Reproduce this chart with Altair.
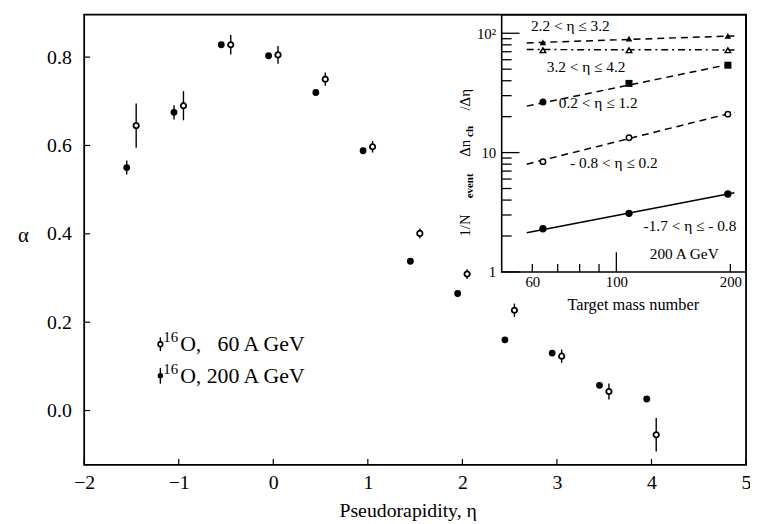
import altair as alt
import pandas as pd

FONT = "Liberation Serif"

# ---------------- main panel data ----------------
eta_200 = [-1.55, -1.05, -0.55, -0.05, 0.45, 0.95, 1.45, 1.95, 2.45, 2.95, 3.45, 3.95]
alpha_200 = [0.55, 0.675, 0.828, 0.803, 0.72, 0.588, 0.338, 0.265, 0.16, 0.13, 0.057, 0.026]
err_200 = [0.016, 0.016, 0.006, 0.005, 0.005, 0.005, 0.005, 0.005, 0.005, 0.005, 0.005, 0.005]

eta_60 = [-1.45, -0.95, -0.45, 0.05, 0.55, 1.05, 1.55, 2.05, 2.55, 3.05, 3.55, 4.05]
alpha_60 = [0.645, 0.69, 0.828, 0.805, 0.75, 0.597, 0.401, 0.309, 0.227, 0.123, 0.043, -0.055]
err_60 = [0.05, 0.033, 0.022, 0.02, 0.015, 0.013, 0.011, 0.011, 0.015, 0.015, 0.018, 0.038]

x_ticks = [-2, -1, 0, 1, 2, 3, 4, 5]
y_ticks = [0.0, 0.2, 0.4, 0.6, 0.8]

legend_labels = ["O,\u00a0\u00a0\u00a060 A GeV", "O, 200 A GeV"]

# ---------------- inset data ----------------
mass = [64, 108, 197]
tri_filled = [84, 90, 95]
tri_open = [72, 72, 72]
mid_filled = [26.5, 38, 54]
mid_shapes = ["circle", "square", "square"]
circ_open = [8.4, 13.3, 21]
circ_filled = [2.3, 3.1, 4.5]

fit_mass = [58, 205]
fit_tri_filled = [83, 95]
fit_tri_open = [73, 72.5]
fit_mid = [24.5, 56]
fit_circ_open = [8.0, 21.8]
fit_circ_filled = [2.13, 4.6]

inset_labels = ["2.2 < η ≤ 3.2", "3.2 < η ≤ 4.2", "0.2 < η ≤ 1.2",
                "- 0.8 < η ≤ 0.2", "-1.7 < η ≤ - 0.8", "200 A GeV"]
inset_label_mass = [59.5, 65.5, 70.5, 75.5, 118, 122.5]
inset_label_val = [116, 52, 26, 8.1, 2.41, 1.41]

inset_x_major = [100]
inset_x_minor = [60, 70, 80, 90, 200]
inset_y_major = [1, 10, 100]
inset_y_minor = [2, 3, 4, 5, 6, 7, 8, 9, 20, 30, 40, 50, 60, 70, 80, 90]
inset_x_labels = [60, 100, 200]

# ---------------- layout ----------------
W, H = 669, 455
IX0, IX1 = 422, 669      # inset pixel range inside plot
IY0, IY1 = 260, 0

main_x = alt.Scale(domain=[-2, 5], nice=False, zero=False)
main_y = alt.Scale(domain=[-0.123, 0.896], nice=False, zero=False)
inset_xs = alt.Scale(type="log", domain=[49.8, 220], range=[IX0, IX1], nice=False)
inset_ys = alt.Scale(type="log", domain=[1, 143], range=[IY0, IY1], nice=False)

x_axis = alt.Axis(values=x_ticks, ticks=False, domain=False, grid=False, tickSize=0,
                  labelFlush=False, labelOverlap=False,
                  labelFont=FONT, labelFontSize=20, labelPadding=8, labelColor="black",
                  title="Pseudorapidity,  η", titleFont=FONT, titleFontSize=20,
                  titleFontWeight="normal", titleColor="black",
                  titleX=327, titleY=46, titleAlign="center", titleBaseline="middle")
y_axis = alt.Axis(values=y_ticks, format=".1f", ticks=False, domain=False, grid=False, tickSize=0,
                  labelFlush=False, labelOverlap=False,
                  labelFont=FONT, labelFontSize=20, labelPadding=13, labelColor="black",
                  title="α", titleFont=FONT, titleFontSize=21, titleFontWeight="normal",
                  titleAngle=0, titleX=-62, titleY=223, titleAlign="center",
                  titleBaseline="middle", titleColor="black")

ix_axis = alt.Axis(orient="bottom", offset=-(H - IY0), values=inset_x_labels, format="d",
                   ticks=False, domain=False, grid=False, tickSize=0,
                   labelFlush=False, labelOverlap=False,
                   labelFont=FONT, labelFontSize=15, labelPadding=3, labelColor="black",
                   title=None)
iy_axis = alt.Axis(orient="left", offset=-IX0, values=inset_y_major, format="d",
                   labelExpr="datum.value == 100 ? '10²' : datum.label",
                   ticks=False, domain=False, grid=False, tickSize=0,
                   labelFlush=False, labelOverlap=False,
                   labelFont=FONT, labelFontSize=15, labelPadding=6, labelColor="black",
                   title=None)

def mk_err(eta, a, e):
    return pd.DataFrame({"eta": eta, "a": a,
                         "lo": [v - d for v, d in zip(a, e)],
                         "hi": [v + d for v, d in zip(a, e)]})

d200 = mk_err(eta_200, alpha_200, err_200)
d60 = mk_err(eta_60, alpha_60, err_60)

X = lambda f: alt.X(f, scale=main_x, axis=x_axis)
Y = lambda f: alt.Y(f, scale=main_y, axis=y_axis)

err200 = alt.Chart(d200).mark_rule(color="black", strokeWidth=1.4).encode(
    x=X("eta:Q"), y=Y("lo:Q"), y2="hi:Q")
pts200 = alt.Chart(d200).mark_point(shape="circle", filled=True, color="black",
                                    size=48, opacity=1).encode(x=X("eta:Q"), y=Y("a:Q"))
err60 = alt.Chart(d60).mark_rule(color="black", strokeWidth=1.4).encode(
    x=X("eta:Q"), y=Y("lo:Q"), y2="hi:Q")
pts60 = alt.Chart(d60).mark_point(shape="circle", filled=True, fill="white", stroke="black",
                                  strokeWidth=1.8, size=30, opacity=1).encode(
    x=X("eta:Q"), y=Y("a:Q"))

xt = alt.Chart(pd.DataFrame({"v": x_ticks})).mark_rule(color="black", strokeWidth=1.2).encode(
    x=X("v:Q"), y=alt.value(H), y2=alt.value(H - 6))
yt = alt.Chart(pd.DataFrame({"v": y_ticks})).mark_rule(color="black", strokeWidth=1.2).encode(
    y=Y("v:Q"), x=alt.value(0), x2=alt.value(6))

# legend (drawn inside the plot)
leg_y = [333, 365]
LX = 77
leg = pd.DataFrame({"t": legend_labels, "y": leg_y})
leg_bar1 = alt.Chart(leg.iloc[[0]]).mark_rule(color="black", strokeWidth=1.4).encode(
    x=alt.value(LX), y=alt.value(leg_y[0] - 7), y2=alt.value(leg_y[0] + 7))
leg_pt1 = alt.Chart(leg.iloc[[0]]).mark_point(shape="circle", filled=True, fill="white",
                                              stroke="black", strokeWidth=1.6, size=22,
                                              opacity=1).encode(
    x=alt.value(LX), y=alt.value(leg_y[0]))
leg_bar2 = alt.Chart(leg.iloc[[1]]).mark_rule(color="black", strokeWidth=1.4).encode(
    x=alt.value(LX), y=alt.value(leg_y[1] - 8), y2=alt.value(leg_y[1] + 8))
leg_pt2 = alt.Chart(leg.iloc[[1]]).mark_point(shape="circle", filled=True, color="black",
                                              size=30, opacity=1).encode(
    x=alt.value(LX), y=alt.value(leg_y[1]))
leg_sup = [alt.Chart(leg.iloc[[i]]).mark_text(text="16", font=FONT, fontSize=15, align="left",
                                               baseline="middle", color="black").encode(
    x=alt.value(LX + 3), y=alt.value(leg_y[i] - 7)) for i in range(2)]
leg_txt = [alt.Chart(leg.iloc[[i]]).mark_text(font=FONT, fontSize=22, align="left",
                                               baseline="middle", color="black").encode(
    x=alt.value(LX + 20), y=alt.value(leg_y[i]), text="t:N") for i in range(2)]

# inset y-axis title pieces (rotated)
ytitle_parts = ["1/N", "event", "Δn", "ch", "/Δη"]
ytitle_y = [213, 173, 135, 118, 86]
ytitle_x = [385, 390, 385, 390, 385]
ytitle_size = [15, 11, 15, 11, 15]
ytitle = [alt.Chart(pd.DataFrame({"t": [ytitle_parts[i]]})).mark_text(
    font=FONT, fontSize=ytitle_size[i], angle=270, align="center", baseline="middle",
    color="black", fontWeight="bold" if ytitle_size[i] == 11 else "normal").encode(
    x=alt.value(ytitle_x[i]), y=alt.value(ytitle_y[i]), text="t:N") for i in range(5)]

xtitle_inset = alt.Chart(pd.DataFrame({"t": ["Target mass number"]})).mark_text(
    font=FONT, fontSize=16.5, align="center", baseline="middle", color="black").encode(
    x=alt.value(555), y=alt.value(293), text="t:N")

main = alt.layer(err200, err60, pts200, pts60, xt, yt,
                 leg_bar1, leg_pt1, leg_bar2, leg_pt2, *leg_sup, *leg_txt,
                 *ytitle, xtitle_inset)

# ---------------- inset ----------------
IXe = lambda f: alt.X(f, scale=inset_xs, axis=ix_axis)
IYe = lambda f: alt.Y(f, scale=inset_ys, axis=iy_axis)

frame = alt.Chart(pd.DataFrame({"a": [0]})).mark_rect(
    filled=False, stroke="black", strokeWidth=1.6).encode(
    x=alt.datum(49.8, scale=inset_xs, axis=ix_axis), x2=alt.datum(220),
    y=alt.datum(1, scale=inset_ys, axis=iy_axis), y2=alt.datum(143))

def fit_line(vals, dash):
    df = pd.DataFrame({"m": fit_mass, "v": vals})
    kw = {"strokeDash": dash} if dash else {}
    return alt.Chart(df).mark_line(color="black", strokeWidth=1.5, **kw).encode(
        x=IXe("m:Q"), y=IYe("v:Q"))

lines = [fit_line(fit_tri_filled, [7, 5]),
         fit_line(fit_tri_open, [7, 4, 2, 4]),
         fit_line(fit_mid, [7, 5]),
         fit_line(fit_circ_open, [7, 5]),
         fit_line(fit_circ_filled, None)]

def pts(vals, shape, filled, size):
    df = pd.DataFrame({"m": mass, "v": vals, "s": shape if isinstance(shape, list) else [shape] * 3})
    if filled:
        mk = alt.Chart(df).mark_point(filled=True, color="black", size=size, opacity=1)
    else:
        mk = alt.Chart(df).mark_point(filled=True, fill="white", stroke="black",
                                      strokeWidth=1.5, size=size, opacity=1)
    return mk.encode(x=IXe("m:Q"), y=IYe("v:Q"),
                     shape=alt.Shape("s:N", scale=None, legend=None))

inset_pts = [pts(tri_filled, "triangle-up", True, 45),
             pts(tri_open, "triangle-up", False, 30),
             pts(mid_filled, mid_shapes, True, 50),
             pts(circ_open, "circle", False, 30),
             pts(circ_filled, "circle", True, 55)]

ticks_df = lambda v: pd.DataFrame({"v": v})
iyt_major = alt.Chart(ticks_df(inset_y_major)).mark_rule(color="black", strokeWidth=1.3).encode(
    y=IYe("v:Q"), x=alt.value(IX0), x2=alt.value(IX0 + 18))
iyt_minor = alt.Chart(ticks_df(inset_y_minor)).mark_rule(color="black", strokeWidth=1.3).encode(
    y=IYe("v:Q"), x=alt.value(IX0), x2=alt.value(IX0 + 10))
ixt_major = alt.Chart(ticks_df(inset_x_major)).mark_rule(color="black", strokeWidth=1.3).encode(
    x=IXe("v:Q"), y=alt.value(IY0), y2=alt.value(IY0 - 20))
ixt_minor = alt.Chart(ticks_df(inset_x_minor)).mark_rule(color="black", strokeWidth=1.3).encode(
    x=IXe("v:Q"), y=alt.value(IY0), y2=alt.value(IY0 - 8))

lab_df = pd.DataFrame({"m": inset_label_mass, "v": inset_label_val, "t": inset_labels})
inset_text = alt.Chart(lab_df).mark_text(font=FONT, fontSize=15.5, align="left",
                                         baseline="middle", color="black").encode(
    x=IXe("m:Q"), y=IYe("v:Q"), text="t:N")

inset = alt.layer(frame, *lines, *inset_pts, iyt_major, iyt_minor, ixt_major, ixt_minor,
                  inset_text)

chart = alt.layer(main, inset).resolve_scale(x="independent", y="independent").properties(
    width=W, height=H,
    autosize=alt.AutoSizeParams(type="none"),
    padding={"left": 77, "top": 4, "right": 4, "bottom": 57},
    background="white",
).configure_view(stroke="black", strokeWidth=1.8)

chart.save("out.html", embed_options={"renderer": "svg", "actions": False})
